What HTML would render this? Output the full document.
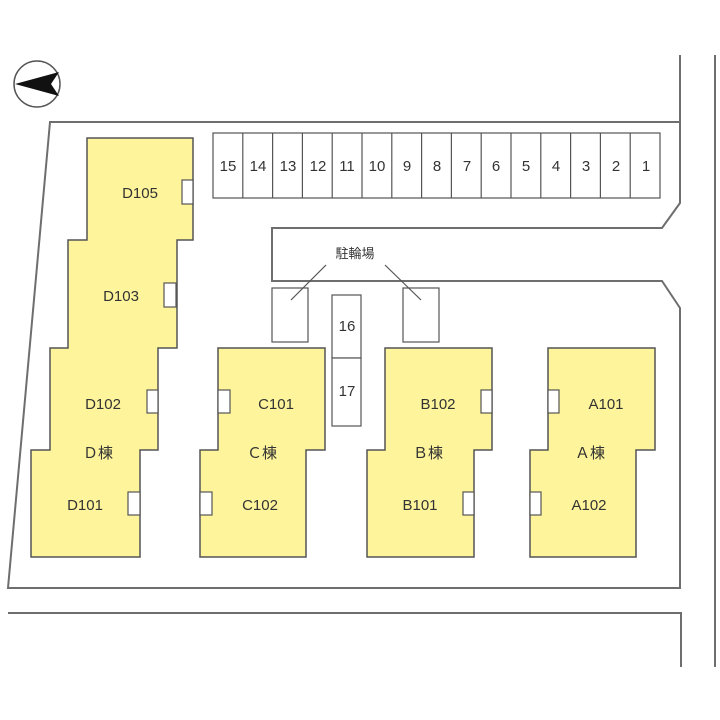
<!DOCTYPE html>
<html><head><meta charset="utf-8"><style>
html,body{margin:0;padding:0;background:#fff}
svg{display:block}
text{font-family:"Liberation Sans","Noto Sans CJK JP",sans-serif;fill:#333;font-size:15px}
</style></head><body>
<svg width="720" height="720" viewBox="0 0 720 720" xmlns="http://www.w3.org/2000/svg">
<g fill="none" stroke="#6e6e6e" stroke-width="2">
<polyline points="680,55 680,203 662,228 272,228 272,281 662,281 680,308 680,588 8,588 50,122 680,122"/>
<polyline points="8,613 681,613 681,667"/>
<line x1="715" y1="55" x2="715" y2="667"/>
</g>
<!-- compass -->
<circle cx="37" cy="84" r="23" fill="#fff" stroke="#555" stroke-width="1.5"/>
<polygon points="15,84 59,72 51,84 59,96" fill="#111"/>
<!-- parking -->
<g fill="#fff" stroke="#555" stroke-width="1.2">
<rect x="213" y="133" width="447" height="65"/>
<rect x="272" y="288" width="36" height="54"/>
<rect x="403" y="288" width="36" height="54"/>
<rect x="332" y="295" width="29" height="63"/>
<rect x="332" y="358" width="29" height="68"/>
</g>
<g stroke="#555" stroke-width="1.2">
<line x1="242.8" y1="133" x2="242.8" y2="198"/><line x1="272.6" y1="133" x2="272.6" y2="198"/>
<line x1="302.4" y1="133" x2="302.4" y2="198"/><line x1="332.2" y1="133" x2="332.2" y2="198"/>
<line x1="362" y1="133" x2="362" y2="198"/><line x1="391.8" y1="133" x2="391.8" y2="198"/>
<line x1="421.6" y1="133" x2="421.6" y2="198"/><line x1="451.4" y1="133" x2="451.4" y2="198"/>
<line x1="481.2" y1="133" x2="481.2" y2="198"/><line x1="511" y1="133" x2="511" y2="198"/>
<line x1="540.8" y1="133" x2="540.8" y2="198"/><line x1="570.6" y1="133" x2="570.6" y2="198"/>
<line x1="600.4" y1="133" x2="600.4" y2="198"/><line x1="630.2" y1="133" x2="630.2" y2="198"/>
<line x1="326" y1="265" x2="291" y2="300"/><line x1="385" y1="265" x2="421" y2="300"/>
</g>
<g text-anchor="middle" font-size="14">
<text x="228" y="171">15</text><text x="258" y="171">14</text><text x="288" y="171">13</text>
<text x="318" y="171">12</text><text x="347" y="171">11</text><text x="377" y="171">10</text>
<text x="407" y="171">9</text><text x="437" y="171">8</text><text x="467" y="171">7</text>
<text x="496" y="171">6</text><text x="526" y="171">5</text><text x="556" y="171">4</text>
<text x="586" y="171">3</text><text x="616" y="171">2</text><text x="646" y="171">1</text>
<text x="347" y="331">16</text><text x="347" y="396">17</text>
<text x="355" y="258" style="font-size:13px">駐輪場</text>
</g>
<!-- buildings -->
<g fill="#fdf49b" stroke="#555" stroke-width="1.5">
<polygon points="87,138 193,138 193,240 177,240 177,348 158,348 158,450 140,450 140,557 31,557 31,450 50,450 50,348 68,348 68,240 87,240"/>
<polygon points="218,348 325,348 325,450 306,450 306,557 200,557 200,450 218,450"/>
<polygon points="385,348 492,348 492,450 474,450 474,557 367,557 367,450 385,450"/>
<polygon points="548,348 655,348 655,450 636,450 636,557 530,557 530,450 548,450"/>
</g>
<g fill="#fff" stroke="#555" stroke-width="1.2">
<rect x="182" y="180" width="11" height="24"/><rect x="164" y="283" width="12" height="24"/>
<rect x="147" y="390" width="11" height="23"/><rect x="128" y="492" width="12" height="23"/>
<rect x="218" y="390" width="12" height="23"/><rect x="200" y="492" width="12" height="23"/>
<rect x="481" y="390" width="11" height="23"/><rect x="463" y="492" width="11" height="23"/>
<rect x="548" y="390" width="11" height="23"/><rect x="530" y="492" width="11" height="23"/>
</g>
<g text-anchor="middle">
<text x="140" y="198">D105</text><text x="121" y="301">D103</text>
<text x="103" y="409">D102</text><text x="98" y="458">Ｄ棟</text><text x="85" y="510">D101</text>
<text x="276" y="409">C101</text><text x="262" y="458">Ｃ棟</text><text x="260" y="510">C102</text>
<text x="438" y="409">B102</text><text x="428" y="458">Ｂ棟</text><text x="420" y="510">B101</text>
<text x="606" y="409">A101</text><text x="590" y="458">Ａ棟</text><text x="589" y="510">A102</text>
</g>
</svg>
</body></html>
